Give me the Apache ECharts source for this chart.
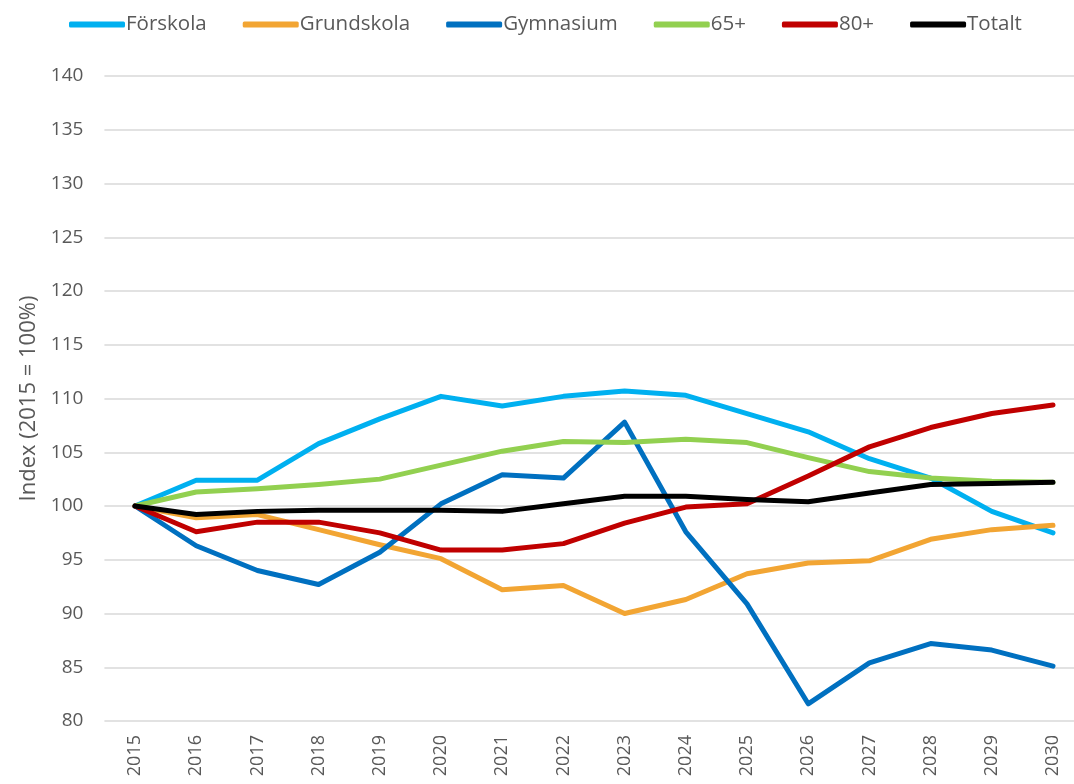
<!DOCTYPE html>
<html>
<head>
<meta charset="utf-8">
<script src="https://cdn.jsdelivr.net/npm/echarts@6/dist/echarts.min.js"></script>
<style>
  html, body { margin: 0; padding: 0; background: #fff; }
  #chart { width: 1074px; height: 784px; }
</style>
</head>
<body>
<div id="chart"></div>
<script>
// årtal på x-axeln
const years = ['2015', '2016', '2017', '2018', '2019', '2020', '2021', '2022',
  '2023', '2024', '2025', '2026', '2027', '2028', '2029', '2030']

// index per grupp (2015 = 100)
const forskola = [100, 102.4, 102.4, 105.8, 108.1, 110.2, 109.3, 110.2, 110.7, 110.3, 108.6, 106.9, 104.4, 102.6, 99.5, 97.5]
const grundskola = [100, 98.9, 99.2, 97.8, 96.4, 95.1, 92.2, 92.6, 90.0, 91.3, 93.7, 94.7, 94.9, 96.9, 97.8, 98.2]
const gymnasium = [100, 96.3, 94.0, 92.7, 95.7, 100.2, 102.9, 102.6, 107.8, 97.6, 90.9, 81.6, 85.4, 87.2, 86.6, 85.1]
const plus65 = [100, 101.3, 101.6, 102.0, 102.5, 103.8, 105.1, 106.0, 105.9, 106.2, 105.9, 104.5, 103.2, 102.6, 102.3, 102.2]
const plus80 = [100, 97.6, 98.5, 98.5, 97.5, 95.9, 95.9, 96.5, 98.4, 99.9, 100.2, 102.8, 105.5, 107.3, 108.6, 109.4]
const totalt = [100, 99.2, 99.5, 99.6, 99.6, 99.6, 99.5, 100.2, 100.9, 100.9, 100.6, 100.4, 101.2, 102.0, 102.1, 102.2]

const names = ['Förskola', 'Grundskola', 'Gymnasium', '65+', '80+', 'Totalt']
const colors = ['#00B0F0', '#F2A533', '#0070C0', '#92D050', '#C00000', '#000000']
const values = [forskola, grundskola, gymnasium, plus65, plus80, totalt]

const textColor = '#595959'
const font = '"Open Sans", "Noto Sans", sans-serif'

const chart = echarts.init(document.getElementById('chart'))

chart.setOption({
  animation: false,
  color: colors,
  legend: {
    top: 9,
    left: 64,
    icon: 'roundRect',
    itemWidth: 56,
    itemHeight: 6,
    itemGap: 36,
    textStyle: { color: textColor, fontSize: 20.5, fontFamily: font, padding: [0, 0, 0, -4] },
    data: names
  },
  // rutnätet fortsätter förbi bildens högra kant
  grid: {
    left: 104.4,
    width: 979.2,
    top: 76,
    bottom: 63,
    containLabel: false,
    outerBoundsMode: 'none'
  },
  xAxis: {
    type: 'category',
    data: years,
    boundaryGap: true,
    axisLine: { show: false },
    axisTick: { show: false },
    axisLabel: {
      rotate: 90,
      margin: 14,
      color: textColor,
      fontSize: 18,
      fontFamily: font
    }
  },
  yAxis: {
    type: 'value',
    min: 80,
    max: 140,
    interval: 5,
    name: 'Index (2015 = 100%)',
    nameLocation: 'middle',
    nameRotate: 90,
    nameGap: 63,
    nameTextStyle: { color: textColor, fontSize: 22, fontFamily: font },
    axisLabel: {
      margin: 21,
      color: textColor,
      fontSize: 19,
      fontFamily: font
    },
    splitLine: { lineStyle: { color: '#D9D9D9', width: 1.5 } }
  },
  series: names.map((name, i) => ({
    name: name,
    type: 'line',
    data: values[i],
    symbol: 'none',
    lineStyle: { width: 5, color: colors[i], cap: 'round', join: 'round' }
  }))
})
</script>
</body>
</html>
